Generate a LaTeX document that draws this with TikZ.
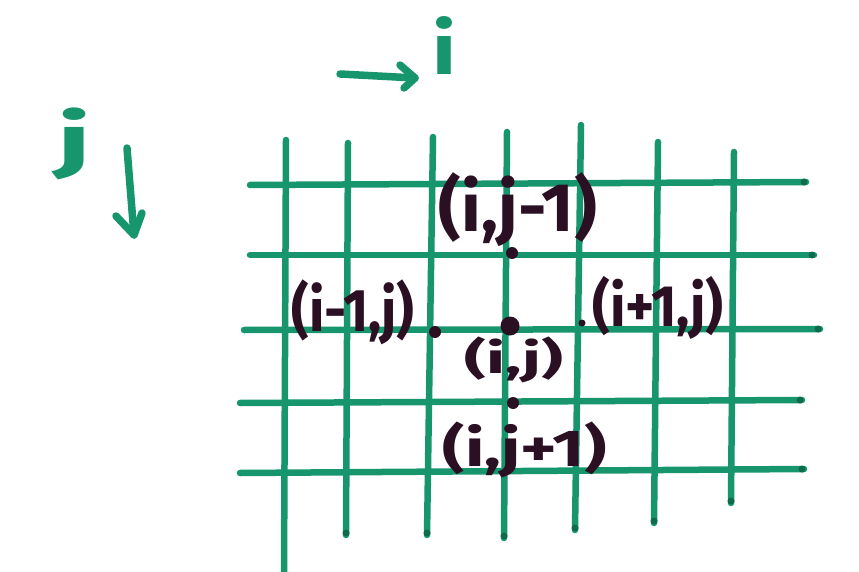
\documentclass[tikz,border=0pt]{standalone}
\usepackage{graphicx}
\usepackage{fontspec}
\setmainfont{Fira Sans}
\definecolor{pen}{HTML}{17966E}
\definecolor{penend}{HTML}{0E6B4D}
\definecolor{ink}{HTML}{2B0F22}
\tikzset{
  gridline/.style={draw=pen,line width=6.5pt,line cap=round},
  endblob/.style={circle,fill=penend,inner sep=0pt,minimum size=7pt},
  gdot/.style={circle,fill=ink,inner sep=0pt,minimum size=#1},
  lbl/.style={inner sep=0pt,text=ink,font=\bfseries},
  axlbl/.style={inner sep=0pt,text=pen,font=\bfseries},
  penstroke/.style={draw=pen,line width=7.5pt,line cap=round,line join=round}
}
\begin{document}
\begin{tikzpicture}[x=1pt,y=-1pt]
\useasboundingbox (0,0) rectangle (859,572);
\fill[white] (0,0) rectangle (859,572);
% vertical lines
\foreach \xa/\ya/\xb/\yb in {286/140/284/572, 348/143/346/535, 433/137/427/535, 507/132/504/538, 581/125/575/530, 658/142/654/523, 734/152/731/503}{
  \draw[gridline] (\xa,\ya) -- (\xb,\yb);
}
% horizontal lines
\foreach \xa/\ya/\xb/\yb in {250/185/806/182, 250/255/814/255, 244/330/820/329, 240/403/802/400, 240/473/804/469}{
  \draw[gridline] (\xa,\ya) -- (\xb,\yb);
}
% darker pen ends
\foreach \x/\y in {346/533, 427/533, 504/536, 575/528, 654/521, 731/501, 804/182, 812/255, 818/329, 800/400, 802/469}{
  \node[endblob] at (\x,\y) {};
}
% grid points
\node[gdot=19pt] (c) at (510,326) {};
\node[gdot=12pt] (n) at (512,253) {};
\node[gdot=12pt] (w) at (435,332) {};
\node[gdot=7pt] (e) at (582,323) {};
\node[gdot=12pt] (s) at (513,403) {};
% labels
\node[lbl] (ln) at (518,210) {\resizebox*{158pt}{74pt}{(i,j-1)}};
\node[lbl] (lw) at (353,312) {\resizebox*{123pt}{65pt}{(i-1,j)}};
\node[lbl] (le) at (658,308) {\resizebox*{131pt}{63pt}{(i+1,j)}};
\node[lbl] (lc) at (514,360) {\resizebox*{98pt}{46pt}{(i,j)}};
\node[lbl] (ls) at (525,450) {\resizebox*{164pt}{56pt}{(i,j+1)}};
% axes
\node[axlbl] (ai) at (445,46) {\resizebox*{24pt}{58pt}{i}};
\node[axlbl] (aj) at (75,144) {\resizebox*{34pt}{72pt}{j}};
\coordinate (ia) at (340,74);
\coordinate (ib) at (415,78);
\coordinate (ja) at (127,148);
\coordinate (jb) at (134,235);
\draw[penstroke] (ia) -- (ib);
\draw[penstroke] (400,65) -- (ib) -- (404,88);
\draw[penstroke] (ja) -- (jb);
\draw[penstroke] (116,216) -- (jb) -- (142,213);
\end{tikzpicture}
\end{document}
